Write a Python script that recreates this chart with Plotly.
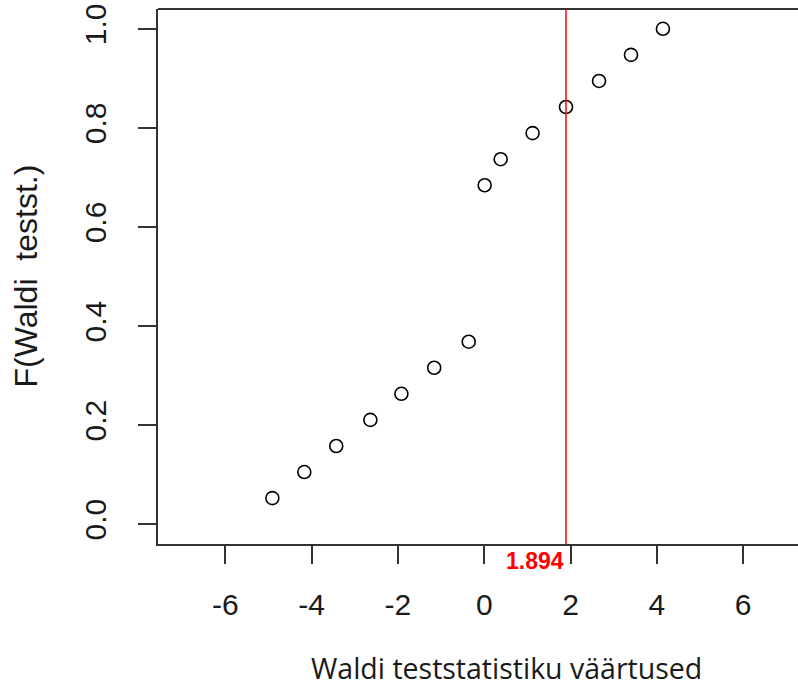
import plotly.graph_objects as go

# Data
wald_x = [-4.91, -4.17, -3.43, -2.64, -1.92, -1.16, -0.36, 0.01, 0.38, 1.12, 1.894, 2.66, 3.40, 4.14]
F_y = [1/19, 2/19, 3/19, 4/19, 5/19, 6/19, 7/19, 13/19, 14/19, 15/19, 16/19, 17/19, 18/19, 19/19]
observed = 1.894
observed_label = "1.894"
x_ticks = [-6, -4, -2, 0, 2, 4, 6]
x_tick_text = ["-6", "-4", "-2", "0", "2", "4", "6"]
y_ticks = [0.0, 0.2, 0.4, 0.6, 0.8, 1.0]
y_tick_text = ["0.0", "0.2", "0.4", "0.6", "0.8", "1.0"]

W, H = 798, 689
L, R, T, B = 158, 0, 9, 145

fig = go.Figure()
fig.add_trace(go.Scatter(
    x=wald_x, y=F_y, mode="markers",
    marker=dict(symbol="circle-open", size=13, color="black", line=dict(width=1.6, color="black")),
    showlegend=False, cliponaxis=False, hoverinfo="skip",
))

axis_font = dict(family="Liberation Sans, Arial, sans-serif", size=30, color="#1a1a1a")

fig.update_layout(
    width=W, height=H,
    margin=dict(l=L, r=R, t=T, b=B, autoexpand=False),
    paper_bgcolor="white", plot_bgcolor="white",
    xaxis=dict(
        range=[-7.56, 7.27], tickvals=x_ticks, ticktext=x_tick_text, ticks="outside", ticklen=18,
        tickwidth=1.5, tickcolor="#333", showline=True, linecolor="#333", linewidth=2,
        showgrid=False, zeroline=False, tickfont=axis_font, ticklabelstandoff=15,
        ticklabeloverflow="allow",
    ),
    yaxis=dict(
        range=[-0.04, 1.04], tickvals=y_ticks, ticktext=y_tick_text, ticks="outside", ticklen=18,
        tickwidth=1.5, tickcolor="#333", showline=True, linecolor="#333", linewidth=2,
        showgrid=False, zeroline=False, tickfont=axis_font, tickangle=-90, ticklabelstandoff=20,
        ticklabeloverflow="allow",
    ),
    shapes=[
        dict(type="line", xref="paper", yref="paper", x0=0, x1=1, y0=1, y1=1,
             line=dict(color="#333", width=2)),
        dict(type="line", xref="x", yref="paper", x0=observed, x1=observed, y0=0, y1=1,
             line=dict(color="red", width=1.5)),
    ],
    annotations=[
        dict(text=observed_label, x=observed, xref="x", y=0, yref="paper", xanchor="right",
             yanchor="middle", yshift=-17, showarrow=False,
             font=dict(family="Liberation Sans, Arial, sans-serif", size=23, color="red", weight="bold")),
        dict(text="Waldi teststatistiku väärtused", x=(506 - L) / (W - L - R), xref="paper",
             y=0, yref="paper", yanchor="middle", xanchor="center", yshift=-124, showarrow=False,
             font=dict(family="Open Sans, sans-serif", size=28.5, color="#1a1a1a")),
        dict(text="F(Waldi  testst.)", x=0, xref="paper", xshift=-(L - 25), xanchor="center",
             y=0.5, yref="paper", yanchor="middle", textangle=-90, showarrow=False,
             font=dict(family="Liberation Sans, Arial, sans-serif", size=32, color="#1a1a1a")),
    ],
)

fig.write_html("out.html", config={"displayModeBar": False},
               post_script="document.body.style.margin='0';document.body.style.overflow='hidden';")
